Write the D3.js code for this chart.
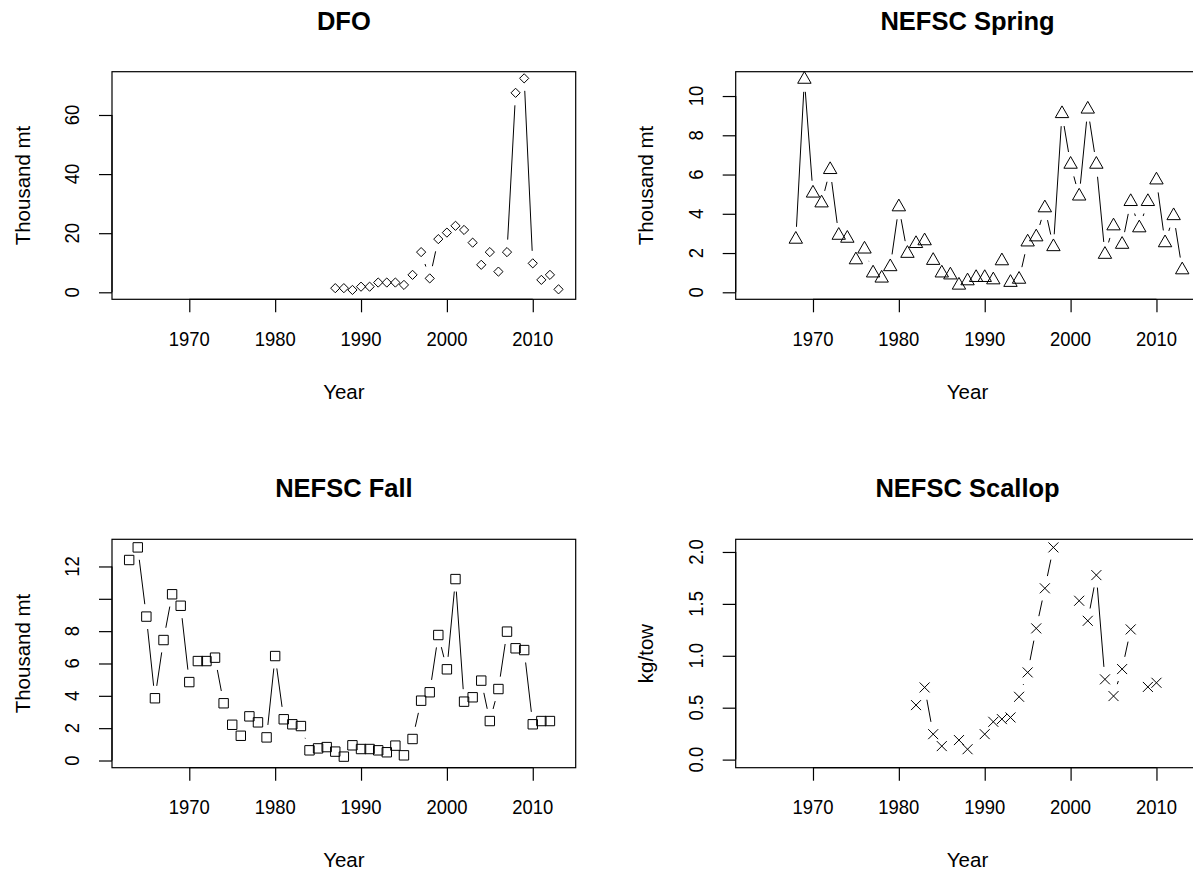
<!DOCTYPE html>
<html><head><meta charset="utf-8">
<script src="https://cdn.jsdelivr.net/npm/d3@7/dist/d3.min.js"></script>
<style>
body{margin:0;background:#fff}
svg{display:block}
text{font-family:"Liberation Sans",Arial,Helvetica,sans-serif;fill:#000}
</style>
</head><body>
<svg id="chart" width="1193" height="874"></svg>
<script>
// ---------- data ----------
const dfoYears = d3.range(1987, 2014);
const dfoValues = [1.4, 1.4, 0.8, 1.9, 1.9, 3.3, 3.3, 3.3, 2.5, 5.9, 13.6, 4.7, 18.0, 20.2, 22.5, 21.1, 16.8, 9.3, 13.6, 7.0, 13.6, 67.5, 72.4, 9.8, 4.2, 5.9, 1.0];

const springYears = d3.range(1968, 2014);
const springValues = [2.7, 10.85, 5.05, 4.55, 6.25, 2.9, 2.75, 1.65, 2.2, 0.98, 0.72, 1.3, 4.35, 1.98, 2.48, 2.62, 1.62, 0.98, 0.88, 0.36, 0.58, 0.75, 0.75, 0.63, 1.6, 0.5, 0.66, 2.56, 2.82, 4.3, 2.32, 9.1, 6.52, 4.9, 9.33, 6.52, 1.93, 3.38, 2.44, 4.62, 3.28, 4.62, 5.72, 2.52, 3.9, 1.14];

const fallYears = d3.range(1963, 2013);
const fallValues = [12.4, 13.18, 8.9, 3.85, 7.45, 10.28, 9.57, 4.85, 6.15, 6.15,
                    6.36, 3.54, 2.21, 1.53, 2.73, 2.36, 1.43, 6.46, 2.55, 2.24,
                    2.13, 0.63, 0.75, 0.83, 0.55, 0.24, 0.94, 0.71, 0.71, 0.63,
                    0.51, 0.92, 0.32, 1.33, 3.7, 4.22, 7.76, 5.64, 11.22, 3.64,
                    3.91, 4.94, 2.44, 4.42, 7.97, 6.94, 6.83, 2.24, 2.44, 2.44];

const scallopYears = d3.range(1982, 2011);
const scallopValues = [0.525, 0.695, 0.245, 0.13, null, 0.188, 0.10, null, 0.245, 0.364,
                       0.39, 0.406, 0.605, 0.84, 1.264, 1.65, 2.044, null, null, 1.53,
                       1.337, 1.777, 0.773, 0.612, 0.872, 1.254, null, 0.70, 0.74];

const xTicks = [1970, 1980, 1990, 2000, 2010];
const xTickLabels = ["1970", "1980", "1990", "2000", "2010"];
const dfoTicks = [0, 20, 40, 60];
const dfoTickLabels = ["0", "20", "40", "60"];
const springTicks = [0, 2, 4, 6, 8, 10];
const springTickLabels = ["0", "2", "4", "6", "8", "10"];
const fallTicks = [0, 2, 4, 6, 8, 10, 12];
const fallTickLabels = ["0", "2", "4", "6", "8", "", "12"];
const scallopTicks = [0, 0.5, 1.0, 1.5, 2.0];
const scallopTickLabels = ["0.0", "0.5", "1.0", "1.5", "2.0"];

const titles = ["DFO", "NEFSC Spring", "NEFSC Fall", "NEFSC Scallop"];
const yLabels = ["Thousand mt", "Thousand mt", "Thousand mt", "kg/tow"];
const xLabel = "Year";

// ---------- layout ----------
const svg = d3.select("#chart");
const allYears = [1963, 2013];
const xr = allYears[1] - allYears[0];
const xDomain = [allYears[0] - 0.04 * xr, allYears[1] + 0.04 * xr];

const panels = [
  {years: dfoYears, values: dfoValues, ticks: dfoTicks, labels: dfoTickLabels, yDom: [-2.37, 74.65], sym: "diamond",
   box: {l: 112, r: 575.7, t: 71.7, b: 299.3}},
  {years: springYears, values: springValues, ticks: springTicks, labels: springTickLabels, yDom: [-0.357, 11.24], sym: "triangle",
   box: {l: 735.7, r: 1199.4, t: 71.7, b: 299.3}},
  {years: fallYears, values: fallValues, ticks: fallTicks, labels: fallTickLabels, yDom: [-0.445, 13.68], sym: "square",
   box: {l: 112, r: 575.7, t: 539.3, b: 767.7}},
  {years: scallopYears, values: scallopValues, ticks: scallopTicks, labels: scallopTickLabels, yDom: [-0.078, 2.122], sym: "cross",
   box: {l: 735.7, r: 1199.4, t: 539.3, b: 767.7}}
];

const symPaths = {
  diamond: "M0,-4.6L4.6,0L0,4.6L-4.6,0Z",
  triangle: "M0,-7.8L6.7,3.9L-6.7,3.9Z",
  square: "M-4.7,-4.7H4.7V4.7H-4.7Z",
  cross: "M-5,-5L5,5M-5,5L5,-5"
};
const GAP = 12.5, TCL = 13, FS = 20.5, LW = 1, NARROW = 0.9;

panels.forEach((p, i) => {
  const b = p.box;
  const g = svg.append("g");
  const x = d3.scaleLinear().domain(xDomain).range([b.l, b.r]);
  const y = d3.scaleLinear().domain(p.yDom).range([b.b, b.t]);

  // box
  g.append("rect").attr("x", b.l).attr("y", b.t).attr("width", b.r - b.l).attr("height", b.b - b.t)
    .attr("fill", "none").attr("stroke", "#000").attr("stroke-width", 1.2);

  // x axis
  const xa = g.append("g").attr("transform", `translate(0,${b.b})`)
    .call(d3.axisBottom(x).tickValues(xTicks).tickSize(TCL).tickPadding(0).tickFormat(() => ""));
  xa.select(".domain").attr("d", `M${x(xTicks[0])},0H${x(xTicks[xTicks.length - 1])}`).attr("stroke", "#000").attr("stroke-width", 1.2);
  xa.selectAll(".tick line").attr("stroke", "#000").attr("stroke-width", 1.2);
  xTicks.forEach((t, k) => {
    g.append("text").attr("transform", `translate(${x(t)},${b.b + 39}) scale(${NARROW},1)`).attr("text-anchor", "middle")
      .attr("dominant-baseline", "central").attr("font-size", FS).text(xTickLabels[k]);
  });
  g.append("text").attr("x", (b.l + b.r) / 2).attr("y", b.b + 92).attr("text-anchor", "middle")
    .attr("dominant-baseline", "central").attr("font-size", FS).text(xLabel);

  // y axis
  const ya = g.append("g").attr("transform", `translate(${b.l},0)`)
    .call(d3.axisLeft(y).tickValues(p.ticks).tickSize(TCL).tickPadding(0).tickFormat(() => ""));
  ya.select(".domain").attr("d", `M0,${y(p.ticks[0])}V${y(p.ticks[p.ticks.length - 1])}`).attr("stroke", "#000").attr("stroke-width", 1.2);
  ya.selectAll(".tick line").attr("stroke", "#000").attr("stroke-width", 1.2);
  p.ticks.forEach((t, k) => {
    if (!p.labels[k]) return;
    const tx = b.l - 40, ty = y(t);
    g.append("text").attr("transform", `translate(${tx},${ty}) rotate(-90) scale(${NARROW},1)`).attr("text-anchor", "middle")
      .attr("dominant-baseline", "central").attr("font-size", FS).text(p.labels[k]);
  });
  g.append("text").attr("transform", `translate(${b.l - 90},${(b.t + b.b) / 2}) rotate(-90)`)
    .attr("text-anchor", "middle").attr("dominant-baseline", "central").attr("font-size", FS).text(yLabels[i]);

  // title
  g.append("text").attr("x", (b.l + b.r) / 2).attr("y", b.t - 51).attr("text-anchor", "middle")
    .attr("dominant-baseline", "central").attr("font-size", 25.5).attr("font-weight", "bold").text(titles[i]);

  // type "b" lines: segments with gaps around points
  const pts = p.years.map((yr, k) => p.values[k] == null ? null : [x(yr), y(p.values[k])]);
  for (let k = 0; k < pts.length - 1; k++) {
    const a = pts[k], c = pts[k + 1];
    if (!a || !c) continue;
    const dx = c[0] - a[0], dy = c[1] - a[1], d = Math.hypot(dx, dy);
    if (d <= 2 * GAP) continue;
    const ux = dx / d, uy = dy / d;
    g.append("line").attr("x1", a[0] + ux * GAP).attr("y1", a[1] + uy * GAP)
      .attr("x2", c[0] - ux * GAP).attr("y2", c[1] - uy * GAP)
      .attr("stroke", "#000").attr("stroke-width", LW);
  }
  // symbols
  g.selectAll("path.sym").data(pts.filter(q => q)).enter().append("path").attr("class", "sym")
    .attr("d", symPaths[p.sym]).attr("transform", q => `translate(${q[0]},${q[1]})`)
    .attr("fill", "none").attr("stroke", "#000").attr("stroke-width", LW);
});
</script>
</body></html>
